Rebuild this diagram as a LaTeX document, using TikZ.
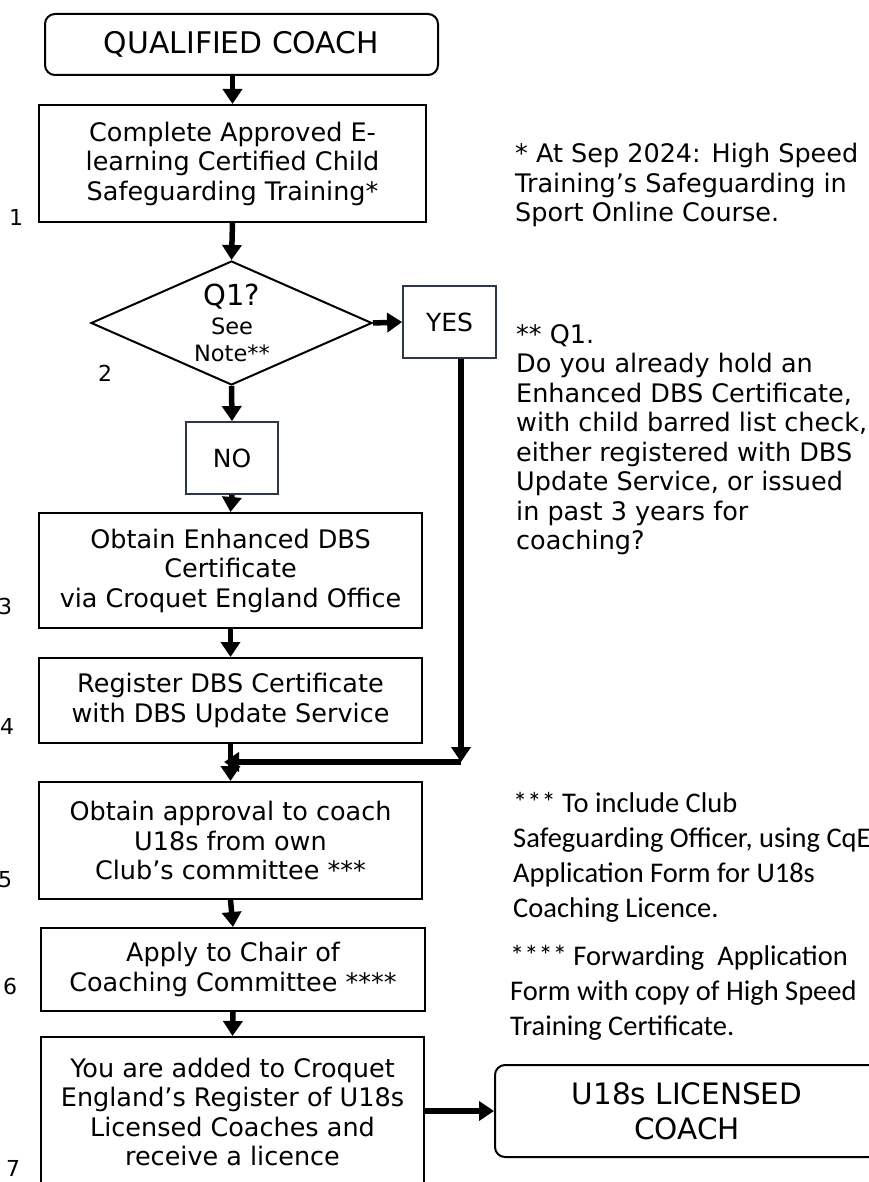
\documentclass[tikz,border=0pt]{standalone}
\usepackage{fontspec}
\setmainfont{DejaVu Sans}
\newfontfamily\notefont{Carlito}
\usetikzlibrary{arrows.meta,shapes.geometric}
\definecolor{ynline}{RGB}{45,55,70}
\begin{document}
\begin{tikzpicture}[x=1pt,y=-1pt,
  stepbox/.style={draw=black,line width=2pt,align=center,inner sep=0pt,font=\fontsize{25.5}{29.5}\selectfont},
  roundbox/.style={draw=black,line width=2pt,rounded corners=10pt,align=center,inner sep=0pt},
  ynbox/.style={draw=ynline,line width=1.8pt,inner sep=0pt,font=\fontsize{25}{30}\selectfont},
  arr/.style={line width=5.5pt,-{Triangle[width=19pt,length=15pt]}},
  numlabel/.style={font=\fontsize{22}{26}\selectfont,inner sep=0pt},
  note/.style={anchor=north west,align=left,inner sep=0pt,font=\fontsize{25.5}{29.5}\selectfont},
  cnote/.style={anchor=north west,align=left,inner sep=0pt,font=\notefont\fontsize{28.5}{35}\selectfont},
]
\fill[white] (0,0) rectangle (869,1182);
\useasboundingbox (0,0) rectangle (869,1182);

% main column
\node[roundbox,minimum width=393pt,minimum height=61pt,font=\fontsize{29.8}{34}\selectfont] (qc) at (241.5,44.5) {QUALIFIED COACH};
\node[stepbox,minimum width=387pt,minimum height=117pt] (s1) at (232.5,163.5) {Complete Approved E-\\learning Certified Child\\Safeguarding Training*};
\node[diamond,draw=black,line width=2pt,minimum width=281pt,minimum height=124pt,inner sep=0pt] (q) at (231.5,323) {};
\node[font=\fontsize{29}{32}\selectfont,inner sep=0pt] (qt) at (232,297) {Q1?};
\node[align=center,font=\fontsize{22.5}{26.5}\selectfont,inner sep=0pt] (qn) at (232,340) {See\\Note**};
\node[ynbox,minimum width=93pt,minimum height=72pt] (yes) at (449.5,322) {YES};
\node[ynbox,minimum width=92pt,minimum height=72pt] (no) at (232,458) {NO};
\node[stepbox,minimum width=383pt,minimum height=115pt] (s3) at (230.5,570.5) {Obtain Enhanced DBS\\Certificate\\via Croquet England Office};
\node[stepbox,minimum width=383pt,minimum height=85pt] (s4) at (230.5,700.5) {Register DBS Certificate\\with DBS Update Service};
\node[stepbox,minimum width=383pt,minimum height=117pt] (s5) at (230.5,840.5) {Obtain approval to coach\\U18s from own\\Club’s committee ***};
\node[stepbox,minimum width=384pt,minimum height=83pt] (s6) at (233,969.5) {Apply to Chair of\\Coaching Committee ****};
\node[stepbox,minimum width=383pt,minimum height=150pt] (s7) at (232.5,1112) {You are added to Croquet\\England’s Register of U18s\\Licensed Coaches and\\receive a licence};
\node[roundbox,minimum width=384pt,minimum height=92pt,font=\fontsize{29.5}{35}\selectfont] (lic) at (687,1111) {U18s LICENSED\\COACH};

% step numbers
\node[numlabel] (n1) at (16,217) {1};
\node[numlabel] (n2) at (105,373) {2};
\node[numlabel] (n3) at (5,606) {3};
\node[numlabel] (n4) at (7,726) {4};
\node[numlabel] (n5) at (5,880) {5};
\node[numlabel] (n6) at (10,986) {6};
\node[numlabel] (n7) at (13,1168) {7};

% notes
\node[note] (fn1) at (515,143) {* At Sep 2024: High Speed\\Training’s Safeguarding in\\Sport Online Course.};
\node[note] (fn2) at (516,324) {** Q1.\\Do you already hold an\\Enhanced DBS Certificate,\\with child barred list check,\\either registered with DBS\\Update Service, or issued\\in past 3 years for\\coaching?};
\node[cnote] (fn3) at (513,792) {*** To include Club\\Safeguarding Officer, using CqE\\Application Form for U18s\\Coaching Licence.};
\node[cnote] (fn4) at (510,945) {**** Forwarding\ \ Application\\Form with copy of High Speed\\Training Certificate.};

% connectors
\coordinate (c) at (461,762);
\coordinate (m) at (224,762);
\draw[arr] (s1.north |- qc.south) -- (s1.north);
\draw[arr] (s1.south) -- (q.north);
\draw[arr] (q.east) -- (yes.west);
\draw[arr] (q.south) -- (no.north);
\draw[arr] (no.south) -- (s3.north);
\draw[arr] (s3.south) -- (s4.north);
\draw[arr] (s4.south) -- (s5.north);
\draw[arr] (yes.south -| c) -- (c);
\draw[arr] (c) -- (m);
\draw[arr] (s5.south) -- (s6.north);
\draw[arr] (s6.south) -- (s7.north);
\draw[arr] (s7.east |- lic.west) -- (lic.west);
\end{tikzpicture}
\end{document}
